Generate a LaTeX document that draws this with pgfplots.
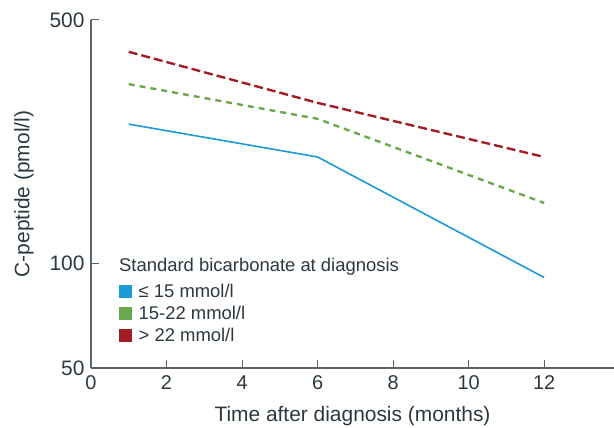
\documentclass[border=0pt]{standalone}
\usepackage{pgfplots}
\pgfplotsset{compat=1.18}
\usetikzlibrary{calc}
\usepackage{fontspec}
\setmainfont{Liberation Sans}
\definecolor{cblue}{HTML}{1B9AD6}
\definecolor{cgreen}{HTML}{6AA84F}
\definecolor{cred}{HTML}{A31D25}
\definecolor{axgray}{HTML}{5A6169}
\definecolor{txt}{HTML}{2B3840}
\begin{document}
\begin{tikzpicture}
\begin{axis}[
  scale only axis,
  width=523bp, height=348bp,
  ymode=log,
  xmin=0, xmax=13.85,
  ymin=50, ymax=500,
  axis lines=left,
  axis line style={draw=axgray, line width=1.2pt, -},
  ytick={50,100,500},
  yticklabels={50,100,500},
  xtick={0,2,4,6,8,10,12},
  tick style={draw=axgray, line width=1pt},
  tick align=inside,
  major tick length=8bp,
  minor tick num=0,
  log ticks with fixed point,
  yminorticks=false,
  /pgf/number format/assume math mode=true,
  yticklabel style={font=\fontsize{21}{24}\selectfont, text=txt, xshift=-3bp},
  xticklabel style={font=\fontsize{20}{24}\selectfont, text=txt, yshift=-4bp},
  xlabel={Time after diagnosis (months)},
  ylabel={C-peptide (pmol/l)},
  label style={font=\fontsize{21}{24}\selectfont, text=txt},
  xlabel style={yshift=-10bp},
  ylabel style={yshift=9bp},
  clip=false,
  legend style={draw=none, fill=none, at={(0.0535,0.245)}, anchor=north west,
    font=\fontsize{18.5}{22}\selectfont, text=txt, row sep=4bp,
    inner sep=0pt, outer sep=0pt, nodes={inner sep=1.5bp}},
  legend cell align=left,
]
\addplot[forget plot, cblue, line width=1.6pt] coordinates {(1,251) (6,202) (12,91)};
\addplot[forget plot, cgreen, line width=2.4pt, dash pattern=on 6bp off 5bp] coordinates {(1,327) (6,260) (12,149)};
\addplot[forget plot, cred, line width=2.4pt, dash pattern=on 9bp off 4bp] coordinates {(1,405) (6,289) (12,202)};
\addlegendimage{legend image code/.code={\fill[cblue] (0bp,-6bp) rectangle (12bp,6bp); \path[draw=none] (0bp,0bp) -- (18bp,0bp);}}
\addlegendentry{≤ 15 mmol/l}
\addlegendimage{legend image code/.code={\fill[cgreen] (0bp,-6bp) rectangle (12bp,6bp); \path[draw=none] (0bp,0bp) -- (18bp,0bp);}}
\addlegendentry{15-22 mmol/l}
\addlegendimage{legend image code/.code={\fill[cred] (0bp,-6bp) rectangle (12bp,6bp); \path[draw=none] (0bp,0bp) -- (18bp,0bp);}}
\addlegendentry{> 22 mmol/l}
\node[anchor=west, inner sep=0pt, font=\fontsize{18.5}{22}\selectfont, text=txt] at (rel axis cs:0.0535,0.29) {Standard bicarbonate at diagnosis};
\end{axis}
\pgfresetboundingbox
\path[use as bounding box] ($(current axis.south west)+(-91bp,-60bp)$) rectangle ($(current axis.south west)+(523bp,368bp)$);
\end{tikzpicture}
\end{document}
